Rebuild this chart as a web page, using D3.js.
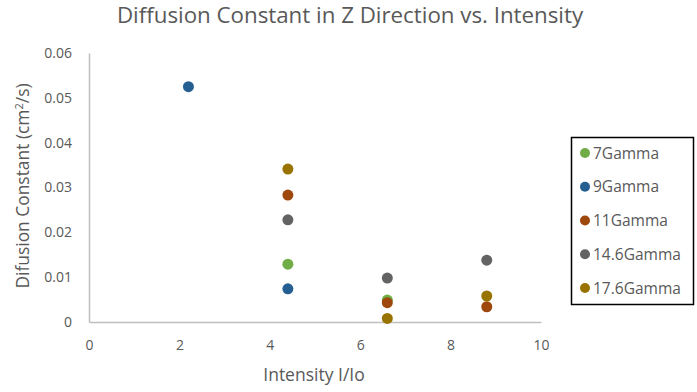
<!DOCTYPE html>
<html>
<head>
<meta charset="utf-8">
<script src="https://cdn.jsdelivr.net/npm/d3@7"></script>
<style>
  html, body { margin: 0; padding: 0; background: #fff; }
  svg { display: block; font-family: "Open Sans", "Noto Sans", sans-serif; }
</style>
</head>
<body>
<svg id="chart" width="697" height="392"></svg>
<script>
// Series names and colours
const seriesNames = ["7Gamma", "9Gamma", "11Gamma", "14.6Gamma", "17.6Gamma"];
const seriesColors = ["#70AD47", "#255E91", "#9E480E", "#636363", "#997300"];

// Intensity (I/Io) values per series
const xs7 = [4.4, 6.6];
const xs9 = [2.2, 4.4];
const xs11 = [4.4, 6.6, 8.8];
const xs146 = [4.4, 6.6, 8.8];
const xs176 = [4.4, 6.6, 8.8];

// Diffusion constant values (cm^2/s) per series
const ys7 = [0.0129, 0.0049];
const ys9 = [0.0525, 0.0074];
const ys11 = [0.0283, 0.0043, 0.0034];
const ys146 = [0.0228, 0.0098, 0.0138];
const ys176 = [0.0341, 0.0008, 0.0058];

// Axis ticks
const xTicks = [0, 2, 4, 6, 8, 10];
const yTicks = [0, 0.01, 0.02, 0.03, 0.04, 0.05, 0.06];

const seriesX = [xs7, xs9, xs11, xs146, xs176];
const seriesY = [ys7, ys9, ys11, ys146, ys176];
const series = seriesNames.map((name, i) => ({
  name, color: seriesColors[i],
  points: seriesX[i].map((x, j) => ({ x, y: seriesY[i][j] }))
}));

const svg = d3.select("#chart");
const textColor = "#595959";
const axisColor = "#BFBFBF";

const x = d3.scaleLinear().domain([0, 10]).range([89, 541]);
const y = d3.scaleLinear().domain([0, 0.06]).range([322, 53]);

// Title
svg.append("text")
  .attr("x", 350).attr("y", 23)
  .attr("text-anchor", "middle")
  .attr("font-size", 22.3)
  .attr("fill", textColor)
  .text("Diffusion Constant in Z Direction vs. Intensity");

// Y axis (line and labels)
const yAxis = d3.axisLeft(y).tickValues(yTicks).tickSize(0).tickPadding(17)
  .tickFormat(d => d === 0 ? "0" : d3.format(".2f")(d));
const gy = svg.append("g").attr("transform", `translate(${x(0)},0)`).call(yAxis);
gy.select(".domain").attr("stroke", axisColor).attr("stroke-width", 1.5);
gy.selectAll("text").attr("fill", textColor).attr("font-size", 14)
  .attr("font-family", "'Open Sans', 'Noto Sans', sans-serif");

// X axis (line and labels)
const xAxis = d3.axisBottom(x).tickValues(xTicks).tickSize(0).tickPadding(18)
  .tickFormat(d3.format("d"));
const gx = svg.append("g").attr("transform", `translate(0,${y(0)})`).call(xAxis);
gx.select(".domain").attr("stroke", axisColor).attr("stroke-width", 1.5);
gx.selectAll("text").attr("fill", textColor).attr("font-size", 14)
  .attr("font-family", "'Open Sans', 'Noto Sans', sans-serif");

// Axis titles
svg.append("text")
  .attr("x", 314).attr("y", 381)
  .attr("text-anchor", "middle")
  .attr("font-size", 17.5)
  .attr("fill", textColor)
  .text("Intensity I/Io");

const yTitle = svg.append("text")
  .attr("transform", "translate(29,186) rotate(-90)")
  .attr("text-anchor", "middle")
  .attr("font-size", 17.4)
  .attr("fill", textColor);
yTitle.append("tspan").text("Difusion Constant (cm");
yTitle.append("tspan").attr("dy", -6).attr("font-size", 11).text("2");
yTitle.append("tspan").attr("dy", 6).text("/s)");

// Points
const plot = svg.append("g");
series.forEach(s => {
  plot.append("g").selectAll("circle")
    .data(s.points)
    .join("circle")
    .attr("cx", d => x(d.x))
    .attr("cy", d => y(d.y))
    .attr("r", 5.5)
    .attr("fill", s.color);
});

// Legend
const legend = svg.append("g");
legend.append("rect")
  .attr("x", 571.5).attr("y", 137.5)
  .attr("width", 122).attr("height", 167)
  .attr("fill", "#fff")
  .attr("stroke", "#000").attr("stroke-width", 1.5);
const legendY = d3.scalePoint().domain(seriesNames).range([153, 288]);
const items = legend.selectAll("g.item").data(series).join("g")
  .attr("class", "item")
  .attr("transform", d => `translate(0,${legendY(d.name)})`);
items.append("circle").attr("cx", 585).attr("cy", 0).attr("r", 5).attr("fill", d => d.color);
items.append("text").attr("x", 593).attr("y", 5.5)
  .attr("font-size", 15.5).attr("fill", textColor)
  .text(d => d.name);
</script>
</body>
</html>
